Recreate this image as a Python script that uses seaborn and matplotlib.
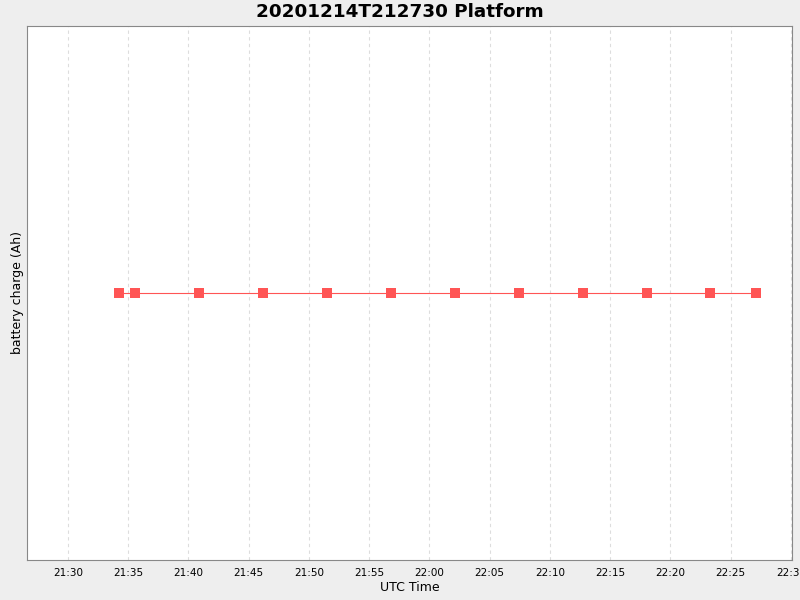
import matplotlib
matplotlib.use("Agg")
import matplotlib.pyplot as plt
import matplotlib.dates as mdates
import seaborn as sns
import pandas as pd

times = ["2020-12-14 21:34:14", "2020-12-14 21:35:33", "2020-12-14 21:40:52",
         "2020-12-14 21:46:10", "2020-12-14 21:51:29", "2020-12-14 21:56:47",
         "2020-12-14 22:02:05", "2020-12-14 22:07:24", "2020-12-14 22:12:42",
         "2020-12-14 22:18:01", "2020-12-14 22:23:19", "2020-12-14 22:27:08"]
charge = [0.0] * 12

df = pd.DataFrame({"time": pd.to_datetime(times), "charge": charge})

sns.set_style("white")
plt.rcParams['font.family'] = ['DejaVu Sans']
plt.rcParams['text.color'] = 'black'
plt.rcParams['axes.labelcolor'] = 'black'
plt.rcParams['xtick.color'] = 'black'

fig = plt.figure(figsize=(8, 6), dpi=100, facecolor="#EEEEEE")
ax = fig.add_axes([27/800, 40/600, 765/800, 534/600])
ax.set_facecolor("white")

sns.lineplot(data=df, x="time", y="charge", ax=ax, color="#FF5555", linewidth=0.8,
             marker="s", markersize=6.5, markeredgewidth=0, markerfacecolor="#FF5555")

ax.set_xlim(pd.Timestamp("2020-12-14 21:26:36"), pd.Timestamp("2020-12-14 22:30:05"))
ax.set_ylim(-1, 1)
ax.xaxis.set_major_locator(mdates.MinuteLocator(byminute=range(0, 60, 5)))
ax.xaxis.set_major_formatter(mdates.DateFormatter("%H:%M"))
ax.set_yticks([])
ax.tick_params(axis="x", labelsize=7.5, length=3, color="#888888", labelcolor="black", pad=3)
ax.grid(True, axis="x", linestyle=(0, (3, 3)), color="#DDDDDD", linewidth=0.8)
ax.grid(False, axis="y")
for s in ax.spines.values():
    s.set_color("#888888")
    s.set_linewidth(0.8)

ax.set_xlabel("UTC Time", fontsize=9, labelpad=2, color="black")
ax.set_ylabel("battery charge (Ah)", fontsize=9, labelpad=2, color="black")
fig.text(0.5, 1 - 12/600, "20201214T212730 Platform", fontsize=13.2, fontweight="bold",
         color="black", ha="center", va="center")

fig.savefig("out.png", dpi=100, facecolor=fig.get_facecolor())
